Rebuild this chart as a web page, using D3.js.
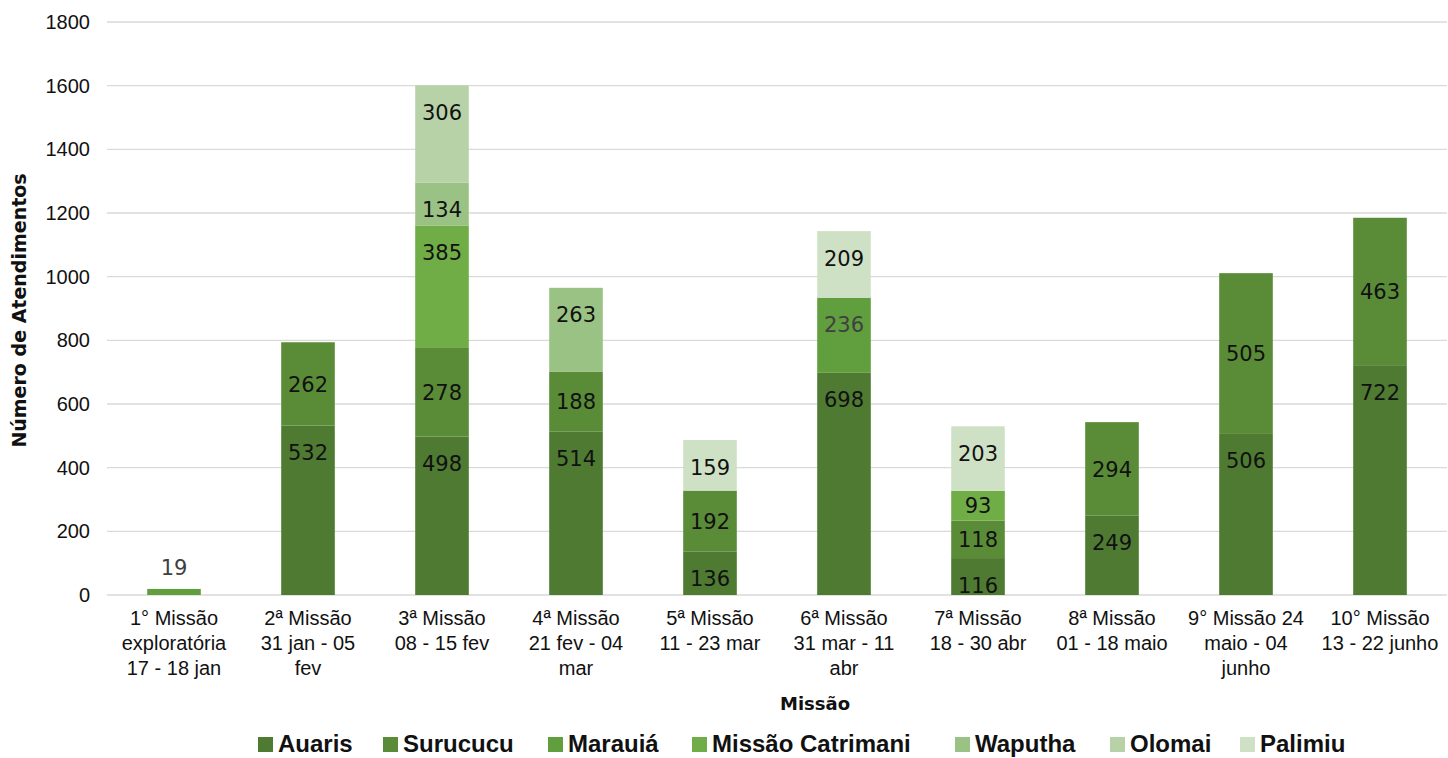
<!DOCTYPE html>
<html lang="pt">
<head>
<meta charset="UTF-8">
<title>Número de Atendimentos por Missão</title>
<script src="https://d3js.org/d3.v7.min.js"></script>
<style>
  body { margin: 0; background: #fff; font-family: 'Liberation Sans', Arial, sans-serif; }
  .grid line { stroke: #d9d9d9; stroke-width: 1.3; }
  .val { font-family: 'DejaVu Sans', sans-serif; font-size: 21px; fill: #111; }
</style>
</head>
<body>
<script>
// dados
const missions = [
  ["1° Missão", "exploratória", "17 - 18 jan"],
  ["2ª Missão", "31 jan - 05", "fev"],
  ["3ª Missão", "08 - 15 fev"],
  ["4ª Missão", "21 fev - 04", "mar"],
  ["5ª Missão", "11 - 23 mar"],
  ["6ª Missão", "31 mar - 11", "abr"],
  ["7ª Missão", "18 - 30 abr"],
  ["8ª Missão", "01 - 18 maio"],
  ["9° Missão 24", "maio - 04", "junho"],
  ["10° Missão", "13 - 22 junho"]
];
const seriesNames = ["Auaris", "Surucucu", "Marauiá", "Missão Catrimani", "Waputha", "Olomai", "Palimiu"];
const auaris     = [0, 532, 498, 514, 136, 698, 116, 249, 506, 722];
const surucucu   = [0, 262, 278, 188, 192, 0, 118, 294, 505, 463];
const marauia    = [19, 0, 0, 0, 0, 236, 0, 0, 0, 0];
const catrimani  = [0, 0, 385, 0, 0, 0, 93, 0, 0, 0];
const waputha    = [0, 0, 134, 263, 0, 0, 0, 0, 0, 0];
const olomai     = [0, 0, 306, 0, 0, 0, 0, 0, 0, 0];
const palimiu    = [0, 0, 0, 0, 159, 209, 203, 0, 0, 0];
const yTicks = [0, 200, 400, 600, 800, 1000, 1200, 1400, 1600, 1800];

const colors = ['#4f7a31', '#5a8c38', '#609e3e', '#70ad47', '#9bc285', '#b7d2a7', '#cfe1c5'];
const labelColors = ['#111', '#111', '#404040', '#111', '#111', '#111', '#111'];

const allSeries = [auaris, surucucu, marauia, catrimani, waputha, olomai, palimiu];
const rows = missions.map((m, i) => {
  const r = { idx: i };
  seriesNames.forEach((s, k) => r[s] = allSeries[k][i]);
  return r;
});

const W = 1448, H = 758;
const margin = { left: 107, right: 1, top: 22, bottom: 163 };

const svg = d3.select('body').append('svg').attr('width', W).attr('height', H);

const x = d3.scaleBand().domain(d3.range(missions.length))
  .range([margin.left, W - margin.right]).paddingInner(0.6).paddingOuter(0.3);
const y = d3.scaleLinear().domain([0, 1800]).range([H - margin.bottom, margin.top]);

// grade
svg.append('g').attr('class', 'grid')
  .selectAll('line').data(yTicks).join('line')
  .attr('x1', margin.left).attr('x2', W - margin.right)
  .attr('y1', d => y(d)).attr('y2', d => y(d));

// eixo y
svg.append('g').selectAll('text').data(yTicks).join('text')
  .attr('x', 90).attr('y', d => y(d)).attr('dy', '0.35em')
  .attr('text-anchor', 'end').style('font-size', '20px').attr('fill', '#111')
  .text(d => d);

svg.append('text')
  .attr('transform', `translate(26, ${(y(0) + y(1800)) / 2 + 2}) rotate(-90)`)
  .attr('text-anchor', 'middle')
  .style('font-family', "'DejaVu Sans', sans-serif")
  .style('font-weight', 'bold').style('font-size', '19px').attr('fill', '#111')
  .text('Número de Atendimentos');

// barras empilhadas
// rótulos: Surucucu (e segmentos pequenos) no centro, os outros perto do topo
function labelY(d, k) {
  const top = y(d[1]), bot = y(d[0]);
  if (bot - top < 12) return top - 22;
  if (k === 1 || bot - top < 35) return (top + bot) / 2;
  return top + 27;
}
const stacked = d3.stack().keys(seriesNames)(rows);
stacked.forEach((layer, k) => {
  const g = svg.append('g');
  const segs = layer.filter(d => d[1] - d[0] > 0);
  g.selectAll('rect').data(segs).join('rect')
    .attr('x', d => x(d.data.idx)).attr('width', x.bandwidth())
    .attr('y', d => y(d[1])).attr('height', d => y(d[0]) - y(d[1]))
    .attr('fill', colors[k]);
  g.selectAll('text').data(segs).join('text')
    .attr('class', 'val')
    .attr('x', d => x(d.data.idx) + x.bandwidth() / 2)
    .attr('y', d => labelY(d, k))
    .attr('dy', '0.36em').attr('text-anchor', 'middle')
    .style('fill', labelColors[k])
    .text(d => d[1] - d[0]);
});

// rótulos do eixo x
const xl = svg.append('g');
missions.forEach((lines, i) => {
  const t = xl.append('text').attr('text-anchor', 'middle')
    .attr('x', x(i) + x.bandwidth() / 2).attr('y', 625)
    .style('font-size', '20px').attr('fill', '#111');
  lines.forEach((s, j) => t.append('tspan')
    .attr('x', x(i) + x.bandwidth() / 2).attr('dy', j === 0 ? 0 : 25).text(s));
});

svg.append('text').attr('x', 815).attr('y', 710)
  .attr('text-anchor', 'middle')
  .style('font-family', "'DejaVu Sans', sans-serif")
  .style('font-weight', 'bold').style('font-size', '18px').attr('fill', '#111')
  .text('Missão');

// legenda
const legX = [258, 383, 548, 692, 955, 1110, 1240];
const leg = svg.append('g');
seriesNames.forEach((s, k) => {
  leg.append('rect').attr('x', legX[k]).attr('y', 737).attr('width', 15).attr('height', 15)
    .attr('fill', colors[k]);
  leg.append('text').attr('x', legX[k] + 20).attr('y', 752)
    .style('font-weight', 'bold').style('font-size', '24px').attr('fill', '#111')
    .text(s);
});
</script>
</body>
</html>
